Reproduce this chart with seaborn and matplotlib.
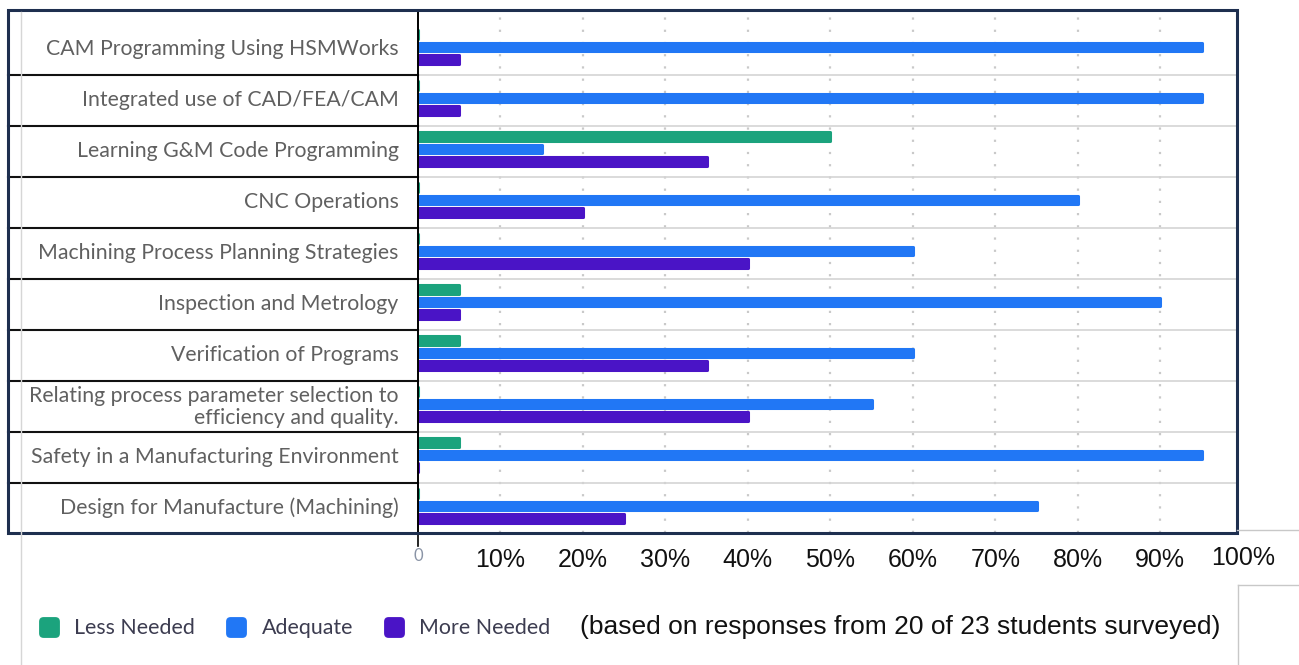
import matplotlib
matplotlib.use("Agg")
import matplotlib.pyplot as plt
import matplotlib.transforms as mtransforms
from matplotlib.lines import Line2D
from matplotlib.patches import Rectangle, BoxStyle
import seaborn as sns
import pandas as pd

categories = [
    "CAM Programming Using HSMWorks",
    "Integrated use of CAD/FEA/CAM",
    "Learning G&M Code Programming",
    "CNC Operations",
    "Machining Process Planning Strategies",
    "Inspection and Metrology",
    "Verification of Programs",
    "Relating process parameter selection to\nefficiency and quality.",
    "Safety in a Manufacturing Environment",
    "Design for Manufacture (Machining)",
]
series_names = ["Less Needed", "Adequate", "More Needed"]
less_needed = [0, 0, 50, 0, 0, 5, 5, 0, 5, 0]
adequate = [95, 95, 15, 80, 60, 90, 60, 55, 95, 75]
more_needed = [5, 5, 35, 20, 40, 5, 35, 40, 0, 25]
tick_values = [0, 10, 20, 30, 40, 50, 60, 70, 80, 90]
tick_labels = ["0", "10%", "20%", "30%", "40%", "50%", "60%", "70%", "80%", "90%"]
note = "(based on responses from 20 of 23 students surveyed)"

colors = ["#1BA37D", "#2177F5", "#4A14C6"]

rows = []
for i, c in enumerate(categories):
    for s, vals in zip(series_names, [less_needed, adequate, more_needed]):
        rows.append({"cat": c, "series": s, "value": vals[i]})
df = pd.DataFrame(rows)

W, H = 1299, 665
fig = plt.figure(figsize=(W / 100, H / 100), dpi=100)
ax_left, ax_right, ax_top, ax_bot = 418, 1237, 10, 533
ax = fig.add_axes([ax_left / W, 1 - ax_bot / H, (ax_right - ax_left) / W, (ax_bot - ax_top) / H])

sns.barplot(data=df, y="cat", x="value", hue="series", order=categories,
            hue_order=series_names, palette=colors, orient="h", width=0.75,
            gap=0.32, ax=ax, legend=False, saturation=1)
for p in ax.patches:
    p.set_edgecolor(p.get_facecolor())
    p.set_linewidth(2.2)
    p.set_joinstyle("round")
    p.set_capstyle("round")

ax.set_xlim(0, 99.3)
ax.set_ylim(9.53, -0.725)
ax.set_xlabel("")
ax.set_ylabel("")

# grid
for v in tick_values[1:]:
    ax.axvline(v, color="#c9c9c9", lw=1.6, ls=(0, (1, 4.5)), zorder=0)
for k in range(len(categories) - 1):
    ax.axhline(k + 0.55, color="#d4d4d4", lw=1.2, zorder=0)

for side in ["top", "right", "bottom"]:
    ax.spines[side].set_visible(False)
ax.spines["left"].set_color("black")
ax.spines["left"].set_linewidth(1.4)

# y labels
ax.tick_params(axis="y", length=0, pad=14)
for t in ax.get_yticklabels():
    t.set_fontfamily("Lato")
    t.set_fontsize(15.3)
    t.set_color("#606060")
    t.set_linespacing(1.15)

# x ticks
ax.set_xticks(tick_values)
ax.set_xticklabels(tick_labels)
ax.tick_params(axis="x", length=0, pad=11)
for i, t in enumerate(ax.get_xticklabels()):
    if i == 0:
        t.set_fontfamily("Lato")
        t.set_fontsize(12)
        t.set_color("#8a94a6")
    else:
        t.set_fontfamily("Liberation Sans")
        t.set_fontsize(18)
        t.set_color("#111111")
xtr = mtransforms.blended_transform_factory(ax.transData, ax.transAxes)
ax.text(100, -0.048, "100%", transform=xtr, ha="center", va="center",
        fontsize=18, family="Liberation Sans", color="#111111", clip_on=False)
# axis stub at zero
ax.plot([0, 0], [0, -0.025], transform=xtr, color="black", lw=1.2, clip_on=False)

# label cell borders (black)
ytr = mtransforms.blended_transform_factory(ax.transAxes, ax.transData)
x_cell = (8 - ax_left) / (ax_right - ax_left)
for k in range(len(categories) - 1):
    ax.plot([x_cell, 0], [k + 0.55, k + 0.55], transform=ytr, color="#111111",
            lw=1.5, clip_on=False)

# figure lines
def fline(xs, ys, **kw):
    fig.add_artist(Line2D([x / W for x in xs], [1 - y / H for y in ys], **kw))

fline([21, 21], [12, 665], color="#d6d6d6", lw=1.0)
fline([1237, 1299], [530, 530], color="#c8c8c8", lw=1.0)
fline([1238, 1238], [585, 665], color="#c8c8c8", lw=1.0)
fline([1238, 1299], [585, 585], color="#c8c8c8", lw=1.0)

# navy outer frame
fig.add_artist(Rectangle((8 / W, 1 - ax_bot / H), (ax_right - 8) / W, (ax_bot - ax_top) / H,
                         fill=False, edgecolor="#1e2f4f", lw=2.2, transform=fig.transFigure))

# legend with rounded-square markers
rsq = BoxStyle.Round(pad=0, rounding_size=0.22)(-0.5, -0.5, 1, 1, 1.0)
handles = [Line2D([], [], marker=rsq, ms=15, ls="none", color=c, markeredgewidth=0)
           for c in colors]
leg = fig.legend(handles, series_names, loc="center left",
                 bbox_to_anchor=(38 / W, 1 - 628 / H), frameon=False, ncol=3,
                 handlelength=1.0, handletextpad=0.7, columnspacing=1.4,
                 borderpad=0, borderaxespad=0,
                 prop={"family": "Lato", "size": 15.4})
for t in leg.get_texts():
    t.set_color("#3c3c50")

fig.text(580 / W, 1 - 627 / H, note, ha="left", va="center", fontsize=19,
         family="Liberation Sans", color="#111111")

fig.savefig("out.png", dpi=100)
